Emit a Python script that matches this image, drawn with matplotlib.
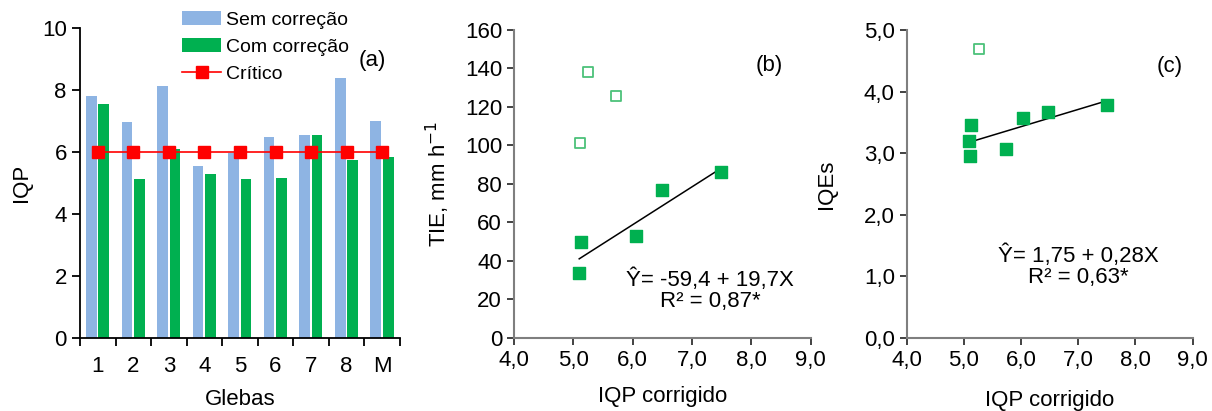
import numpy as np
import matplotlib.pyplot as plt

plt.rcParams['font.family'] = ['Liberation Sans', 'DejaVu Sans']

# (a) IQP por gleba
glebas = ["1", "2", "3", "4", "5", "6", "7", "8", "M"]
sem_correcao = [7.8, 6.96, 8.14, 5.54, 5.95, 6.48, 6.53, 8.38, 6.99]
com_correcao = [7.53, 5.14, 6.1, 5.29, 5.11, 5.16, 6.53, 5.75, 5.82]
critico = [6, 6, 6, 6, 6, 6, 6, 6, 6]

# (b) TIE x IQP corrigido
tie_x = [5.10, 5.13, 6.05, 6.49, 7.49]
tie_y = [33.7, 49.8, 53.1, 76.6, 86.0]
tie_out_x = [5.11, 5.25, 5.72]
tie_out_y = [101.5, 138.2, 125.9]

# (c) IQEs x IQP corrigido
iqe_x = [5.10, 5.09, 5.13, 5.73, 6.04, 6.48, 7.51]
iqe_y = [2.96, 3.19, 3.45, 3.06, 3.57, 3.67, 3.78]
iqe_out_x = [5.26]
iqe_out_y = [4.69]

azul = "#8eb4e3"
verde = "#00b050"
verde_claro = "#4cc17a"

fig = plt.figure(figsize=(12.12, 4.11), dpi=100)
ax1 = fig.add_axes([0.066, 0.178, 0.264, 0.754])
ax2 = fig.add_axes([0.424, 0.178, 0.245, 0.749])
ax3 = fig.add_axes([0.748, 0.178, 0.236, 0.749])

fs = 16

# ---- (a)
x = np.arange(len(glebas))
b1 = ax1.bar(x - 0.18, sem_correcao, 0.3, color=azul, label="Sem correção", zorder=2)
b2 = ax1.bar(x + 0.17, com_correcao, 0.3, color=verde, label="Com correção", zorder=2)
l1, = ax1.plot(x, critico, color="red", marker="s", markersize=8.5, lw=1.2,
               label="Crítico", zorder=3)
ax1.set_xlim(-0.5, len(glebas) - 0.5)
ax1.set_ylim(0, 10)
ax1.set_yticks([0, 2, 4, 6, 8, 10])
ax1.set_xticks(x)
ax1.set_xticklabels(glebas)
ax1.set_xticks(np.arange(-0.5, len(glebas)), minor=True)
ax1.tick_params(axis="x", which="major", length=0, labelsize=fs, pad=13)
ax1.tick_params(axis="x", which="minor", length=6, width=1.3, direction="out")
ax1.tick_params(axis="y", length=6, width=1.3, labelsize=fs)
ax1.set_xlabel("Glebas", fontsize=fs, labelpad=9)
ax1.set_ylabel("IQP", fontsize=fs, labelpad=7)
for s in ["top", "right"]:
    ax1.spines[s].set_visible(False)
for s in ["left", "bottom"]:
    ax1.spines[s].set_linewidth(1.3)
ax1.legend(handles=[b1, b2, l1], loc="upper left", bbox_to_anchor=(0.32, 1.055),
           frameon=False, fontsize=14, handlelength=2.0, handletextpad=0.25,
           labelspacing=0.5, borderaxespad=0, borderpad=0)
ax1.text(0.955, 0.895, "(a)", transform=ax1.transAxes, fontsize=fs,
         ha="right", va="center")

# ---- (b) e (c)
def estilo(ax):
    for s in ["top", "right"]:
        ax.spines[s].set_visible(False)
    for s in ["left", "bottom"]:
        ax.spines[s].set_linewidth(1.5)
        ax.spines[s].set_color("#7f7f7f")
    ax.tick_params(length=5, width=1.3, labelsize=fs, color="#333333")
    ax.set_xlim(4, 9)
    ax.set_xticks(np.arange(4, 9.1, 1))
    ax.set_xticklabels([f"{v:.1f}".replace(".", ",") for v in np.arange(4, 9.1, 1)])

estilo(ax2)
ax2.scatter(tie_x, tie_y, marker="s", s=70, color=verde, zorder=3)
ax2.scatter(tie_out_x, tie_out_y, marker="s", s=45, facecolor="white",
            edgecolor=verde_claro, linewidth=1.3, zorder=3)
xl = np.array([5.1, 7.5])
ax2.plot(xl, -59.4 + 19.7 * xl, color="black", lw=1.1, zorder=2)
ax2.set_ylim(0, 160)
ax2.set_yticks(range(0, 161, 20))
ax2.set_ylabel("TIE, mm h$^{-1}$", fontsize=fs, labelpad=9)
ax2.set_xlabel("IQP corrigido", fontsize=fs, labelpad=11)
ax2.text(0.86, 0.885, "(b)", transform=ax2.transAxes, fontsize=fs,
         ha="center", va="center")
ax2.text(0.66, 0.153, "Ŷ= -59,4 + 19,7X\nR² = 0,87*", transform=ax2.transAxes,
         fontsize=fs, ha="center", va="center", linespacing=1.0)

estilo(ax3)
ax3.scatter(iqe_x, iqe_y, marker="s", s=70, color=verde, zorder=3)
ax3.scatter(iqe_out_x, iqe_out_y, marker="s", s=45, facecolor="white",
            edgecolor=verde_claro, linewidth=1.3, zorder=3)
ax3.plot(xl, 1.75 + 0.28 * xl, color="black", lw=1.1, zorder=2)
ax3.set_ylim(0, 5)
ax3.set_yticks(np.arange(0, 5.1, 1))
ax3.set_yticklabels([f"{v:.1f}".replace(".", ",") for v in np.arange(0, 5.1, 1)])
ax3.set_ylabel("IQEs", fontsize=fs, labelpad=19)
ax3.set_xlabel("IQP corrigido", fontsize=fs, labelpad=14)
ax3.text(0.92, 0.88, "(c)", transform=ax3.transAxes, fontsize=fs,
         ha="center", va="center")
ax3.text(0.60, 0.234, "Ŷ= 1,75 + 0,28X\nR² = 0,63*", transform=ax3.transAxes,
         fontsize=fs, ha="center", va="center", linespacing=1.0)

fig.savefig("out.png", dpi=100)
